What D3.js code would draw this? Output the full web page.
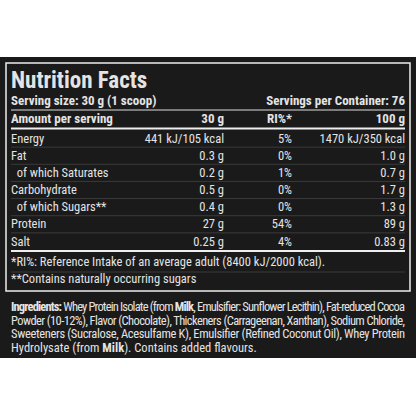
<!DOCTYPE html>
<html><head><meta charset="utf-8">
<script src="https://cdn.jsdelivr.net/npm/d3@7"></script>
<style>body{margin:0;background:#fff}svg{display:block}</style>
</head><body><svg id="c" width="416" height="416"></svg>
<script>
const nutrients = ["Energy","Fat","  of which Saturates","Carbohydrate","  of which Sugars**","Protein","Salt"];
const perServing = ["441 kJ/105 kcal","0.3 g","0.2 g","0.5 g","0.4 g","27 g","0.25 g"];
const riPercent = ["5%","0%","1%","0%","0%","54%","4%"];
const per100 = ["1470 kJ/350 kcal","1.0 g","0.7 g","1.7 g","1.3 g","89 g","0.83 g"];
const headers = ["Amount per serving","30 g","RI%*","100 g"];
const notes = ["*RI%: Reference Intake of an average adult (8400 kJ/2000 kcal).","**Contains naturally occurring sugars"];
const ingredientLines = [
 [["Ingredients:",1],[" Whey Protein Isolate (from ",0],["Milk",1],[", Emulsifier: Sunflower Lecithin), Fat-reduced Cocoa",0]],
 [["Powder (10-12%), Flavor (Chocolate), Thickeners (Carrageenan, Xanthan), Sodium Chloride,",0]],
 [["Sweeteners (Sucralose, Acesulfame K), Emulsifier (Refined Coconut Oil), Whey Protein",0]],
 [["Hydrolysate (from ",0],["Milk",1],["). Contains added flavours.",0]]
];
const F = "'Liberation Sans Narrow','Roboto Condensed','Arial Narrow',sans-serif";
const svg = d3.select("#c");
const fg = "#e4e4e4";
svg.append("rect").attr("x",0).attr("y",57).attr("width",416).attr("height",301).attr("fill","#1a1a1a");
svg.append("rect").attr("x",6).attr("y",63).attr("width",404).attr("height",228).attr("fill","none").attr("stroke","#eee").attr("stroke-width",1.5);
const T=(x,y,s,o={})=>svg.append("text").attr("x",x).attr("y",y).text(s).attr("fill",fg)
  .attr("font-family",F).attr("font-size",o.size||12).attr("font-weight",o.bold?"bold":"normal")
  .attr("text-anchor",o.anchor||"start").style("white-space","pre");
T(11,88,"Nutrition Facts",{size:23,bold:true});
T(11,105,"Serving size: 30 g (1 scoop)",{size:13,bold:true});
T(405,105,"Servings per Container: 76",{size:13,bold:true,anchor:"end"});
svg.append("line").attr("x1",11).attr("x2",405).attr("y1",110).attr("y2",110).attr("stroke","#ddd").attr("stroke-width",1);
const cols=[11,224,292,405];
headers.forEach((h,i)=>T(cols[i],123,h,{size:13,bold:true,anchor:i?"end":"start"}));
svg.append("line").attr("x1",11).attr("x2",405).attr("y1",128.5).attr("y2",128.5).attr("stroke","#eee").attr("stroke-width",2);
const y=d3.scaleBand().domain(nutrients).range([130,250]);
nutrients.forEach((n,i)=>{
  const b=y(n)+y.bandwidth()*0.74;
  T(11,b,n,{size:12.5});
  T(cols[1],b,perServing[i],{size:12.5,anchor:"end"});
  T(cols[2],b,riPercent[i],{size:12.5,anchor:"end"});
  T(cols[3],b,per100[i],{size:12.5,anchor:"end"});
  if(i<nutrients.length-1) svg.append("line").attr("x1",11).attr("x2",405).attr("y1",y(n)+y.bandwidth()).attr("y2",y(n)+y.bandwidth()).attr("stroke","#3a3a3a");
});
svg.append("line").attr("x1",11).attr("x2",405).attr("y1",251).attr("y2",251).attr("stroke","#eee").attr("stroke-width",2);
svg.append("line").attr("x1",11).attr("x2",405).attr("y1",272).attr("y2",272).attr("stroke","#3a3a3a");
notes.forEach((n,i)=>T(11,266+i*17,n,{size:12.5}));
ingredientLines.forEach((line,i)=>{
  const t=svg.append("text").attr("x",11).attr("y",311+i*13.5).attr("fill",fg).attr("font-family",F).attr("font-size",12.5).style("white-space","pre");
  line.forEach(([s,b])=>t.append("tspan").text(s).attr("font-weight",b?"bold":"normal"));
  if(i<3) t.attr("textLength",394).attr("lengthAdjust","spacing");
});
</script></body></html>
